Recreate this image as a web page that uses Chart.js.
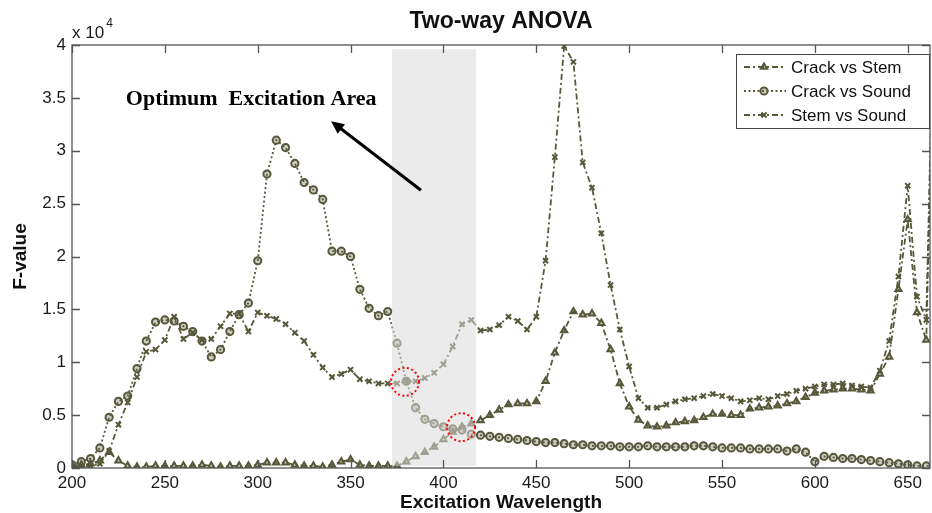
<!DOCTYPE html>
<html lang="en">
<head>
<meta charset="UTF-8" />
<title>Two-way ANOVA</title>
<script src="https://cdn.jsdelivr.net/npm/chart.js"></script>
<style>
  body { margin: 0; background: #fff; }
</style>
</head>
<body>
<canvas id="anova" width="932" height="513"></canvas>
<script>
// excitation wavelengths (nm)
const wavelengths = [
  200, 205, 210, 215, 220, 225, 230, 235, 240, 245, 250, 255, 260, 265, 270, 275,
  280, 285, 290, 295, 300, 305, 310, 315, 320, 325, 330, 335, 340, 345, 350, 355,
  360, 365, 370, 375, 380, 385, 390, 395, 400, 405, 410, 415, 420, 425, 430, 435,
  440, 445, 450, 455, 460, 465, 470, 475, 480, 485, 490, 495, 500, 505, 510, 515,
  520, 525, 530, 535, 540, 545, 550, 555, 560, 565, 570, 575, 580, 585, 590, 595,
  600, 605, 610, 615, 620, 625, 630, 635, 640, 645, 650, 655, 660, 665
];

// F-values, in units of 10^4 (as on the axis)
const crackVsStem = [
  0.02, 0.03, 0.04, 0.07, 0.15, 0.07, 0.02, 0.01, 0.01, 0.02, 0.02, 0.02, 0.02, 0.02, 0.03, 0.02,
  0.01, 0.02, 0.02, 0.02, 0.03, 0.05, 0.05, 0.05, 0.03, 0.02, 0.02, 0.01, 0.03, 0.06, 0.08, 0.03,
  0.02, 0.02, 0.02, 0.02, 0.06, 0.11, 0.15, 0.20, 0.27, 0.34, 0.39, 0.42, 0.45, 0.50, 0.55, 0.60,
  0.61, 0.61, 0.63, 0.82, 1.09, 1.30, 1.48, 1.45, 1.46, 1.37, 1.12, 0.80, 0.58, 0.455, 0.40, 0.39,
  0.40, 0.43, 0.44, 0.45, 0.48, 0.51, 0.51, 0.50, 0.50, 0.56, 0.57, 0.58, 0.59, 0.61, 0.63, 0.67,
  0.71, 0.73, 0.74, 0.75, 0.75, 0.74, 0.73, 0.89, 1.05, 1.69, 2.35, 1.47, 1.21, 5.0
];
const crackVsSound = [
  0.03, 0.06, 0.09, 0.19, 0.48, 0.63, 0.68, 0.94, 1.20, 1.38, 1.40, 1.39, 1.34, 1.29, 1.20, 1.05,
  1.12, 1.29, 1.45, 1.56, 1.96, 2.78, 3.10, 3.03, 2.88, 2.70, 2.63, 2.54, 2.05, 2.05, 2.00, 1.69,
  1.51, 1.44, 1.48, 1.18, 0.82, 0.57, 0.46, 0.42, 0.39, 0.37, 0.36, 0.32, 0.31, 0.30, 0.29, 0.28,
  0.27, 0.26, 0.25, 0.24, 0.24, 0.23, 0.22, 0.22, 0.21, 0.21, 0.21, 0.20, 0.20, 0.20, 0.21, 0.20,
  0.20, 0.20, 0.20, 0.21, 0.21, 0.20, 0.19, 0.19, 0.19, 0.18, 0.18, 0.18, 0.18, 0.16, 0.18, 0.15,
  0.06, 0.11, 0.10, 0.09, 0.09, 0.08, 0.07, 0.06, 0.05, 0.04, 0.03, 0.02, 0.02, 0.02
];
const stemVsSound = [
  0.01, 0.01, 0.02, 0.04, 0.16, 0.41, 0.62, 0.86, 1.10, 1.12, 1.21, 1.43, 1.22, 1.28, 1.21, 1.22,
  1.34, 1.46, 1.46, 1.29, 1.47, 1.44, 1.41, 1.36, 1.28, 1.20, 1.07, 0.95, 0.86, 0.89, 0.93, 0.84,
  0.82, 0.80, 0.80, 0.80, 0.82, 0.82, 0.85, 0.90, 0.98, 1.15, 1.36, 1.40, 1.30, 1.31, 1.35, 1.43,
  1.39, 1.31, 1.43, 1.96, 2.94, 3.99, 3.84, 2.89, 2.65, 2.22, 1.73, 1.31, 0.96, 0.66, 0.57, 0.57,
  0.60, 0.63, 0.65, 0.66, 0.68, 0.70, 0.68, 0.66, 0.63, 0.64, 0.66, 0.65, 0.68, 0.70, 0.73, 0.75,
  0.77, 0.79, 0.79, 0.80, 0.78, 0.77, 0.76, 0.92, 1.20, 1.81, 2.67, 1.62, 1.40, 5.2
];

const xTicks = [200, 250, 300, 350, 400, 450, 500, 550, 600, 650];
const yTicks = [0, 0.5, 1, 1.5, 2, 2.5, 3, 3.5, 4];

// shaded "optimum" band and the two marked crossings
const optimumBand = [372.3, 417.5];
const crossings = [[379.3, 0.815], [409.5, 0.386]];

const OLIVE = '#57573a';
const SANS = 'Liberation Sans, Arial, sans-serif';

function series(values) {
  return wavelengths.map((w, i) => ({ x: w, y: values[i] }));
}

// title over the axes, frame, inward ticks, band, arrow, circles, legend
const matlabLook = {
  id: 'matlabLook',
  afterDatasetsDraw(chart) {
    const { ctx, scales: { x, y } } = chart;
    const x0 = x.getPixelForValue(optimumBand[0]);
    const x1 = x.getPixelForValue(optimumBand[1]);
    const yt = y.getPixelForValue(3.96);
    const yb = y.getPixelForValue(0.02);
    ctx.save();
    ctx.fillStyle = 'rgba(218,218,218,0.55)';
    ctx.fillRect(x0, yt, x1 - x0, yb - yt);
    ctx.restore();
  },
  afterDraw(chart) {
    const { ctx, chartArea: a, scales: { x, y } } = chart;
    ctx.save();

    // title, centred over the axes like MATLAB does
    ctx.fillStyle = '#111';
    ctx.textAlign = 'center';
    ctx.textBaseline = 'middle';
    ctx.font = 'bold 23px ' + SANS;
    ctx.fillText('Two-way ANOVA', (a.left + a.right) / 2, 22);
    ctx.textAlign = 'left';

    // box + ticks
    ctx.strokeStyle = '#555';
    ctx.lineWidth = 1.3;
    ctx.strokeRect(a.left, a.top, a.right - a.left, a.bottom - a.top);
    ctx.beginPath();
    xTicks.forEach(v => {
      const p = Math.round(x.getPixelForValue(v)) + 0.5;
      ctx.moveTo(p, a.bottom); ctx.lineTo(p, a.bottom - 8);
      ctx.moveTo(p, a.top); ctx.lineTo(p, a.top + 8);
    });
    yTicks.forEach(v => {
      const p = Math.round(y.getPixelForValue(v)) + 0.5;
      ctx.moveTo(a.left, p); ctx.lineTo(a.left + 8, p);
      ctx.moveTo(a.right, p); ctx.lineTo(a.right - 8, p);
    });
    ctx.stroke();

    // x 10^4 multiplier
    ctx.fillStyle = '#1a1a1a';
    ctx.font = '17px ' + SANS;
    ctx.fillText('x 10', a.left, a.top - 12);
    const w = ctx.measureText('x 10').width;
    ctx.font = '12px ' + SANS;
    ctx.fillText('4', a.left + w + 2, a.top - 21);

    // red dotted circles on the crossings
    ctx.strokeStyle = '#ff0000';
    ctx.lineWidth = 2;
    ctx.setLineDash([2, 2.5]);
    crossings.forEach(([cx, cy]) => {
      ctx.beginPath();
      ctx.arc(x.getPixelForValue(cx), y.getPixelForValue(cy), 14, 0, Math.PI * 2);
      ctx.stroke();
    });
    ctx.setLineDash([]);

    // annotation arrow + text
    const tx = x.getPixelForValue(387.9), ty = y.getPixelForValue(2.626);
    const hx = x.getPixelForValue(339.5), hy = y.getPixelForValue(3.28);
    const ang = Math.atan2(hy - ty, hx - tx);
    ctx.strokeStyle = '#000';
    ctx.fillStyle = '#000';
    ctx.lineWidth = 3;
    ctx.beginPath();
    ctx.moveTo(tx, ty);
    ctx.lineTo(hx - 8 * Math.cos(ang), hy - 8 * Math.sin(ang));
    ctx.stroke();
    ctx.beginPath();
    ctx.moveTo(hx, hy);
    ctx.lineTo(hx - 13 * Math.cos(ang) + 6 * Math.sin(ang), hy - 13 * Math.sin(ang) - 6 * Math.cos(ang));
    ctx.lineTo(hx - 13 * Math.cos(ang) - 6 * Math.sin(ang), hy - 13 * Math.sin(ang) + 6 * Math.cos(ang));
    ctx.closePath();
    ctx.fill();

    ctx.font = 'bold 22px Liberation Serif, Times New Roman, serif';
    ctx.fillText('Optimum  Excitation Area', x.getPixelForValue(229), y.getPixelForValue(3.49));

    // legend (MATLAB style: line sample with marker in the middle)
    const lw = 193, lh = 74;
    const lx = a.right - 1 - lw, ly = a.top + 9;
    ctx.fillStyle = '#fff';
    ctx.fillRect(lx, ly, lw, lh);
    ctx.strokeStyle = '#444';
    ctx.lineWidth = 1;
    ctx.strokeRect(lx + 0.5, ly + 0.5, lw, lh);
    chart.data.datasets.forEach((ds, i) => {
      const ry = ly + 13 + i * 24;
      ctx.strokeStyle = ds.borderColor;
      ctx.lineWidth = ds.borderWidth;
      ctx.setLineDash(ds.borderDash);
      ctx.beginPath();
      ctx.moveTo(lx + 8, ry);
      ctx.lineTo(lx + 50, ry);
      ctx.stroke();
      ctx.setLineDash([]);
      ctx.fillStyle = ds.pointBackgroundColor;
      ctx.lineWidth = ds.pointBorderWidth;
      Chart.helpers.drawPoint(ctx, { pointStyle: ds.pointStyle, radius: ds.pointRadius, borderWidth: ds.pointBorderWidth, rotation: 0 }, lx + 28, ry);
      ctx.fillStyle = '#111';
      ctx.font = '17px ' + SANS;
      ctx.fillText(ds.label, lx + 55, ry + 1);
    });
    ctx.restore();
  }
};

function lineSet(label, values, dash, style) {
  return {
    label,
    data: series(values),
    borderColor: OLIVE,
    borderWidth: 1.8,
    borderDash: dash,
    pointStyle: style,
    pointRadius: 3.6,
    pointBorderWidth: 2,
    pointBorderColor: OLIVE,
    pointBackgroundColor: 'rgba(87,87,58,0.3)',
    tension: 0,
    fill: false
  };
}

new Chart(document.getElementById('anova'), {
  type: 'line',
  data: {
    datasets: [
      lineSet('Crack vs Stem', crackVsStem, [6, 3, 2, 3], 'triangle'),
      lineSet('Crack vs Sound', crackVsSound, [2, 2.5], 'circle'),
      lineSet('Stem vs Sound', stemVsSound, [6, 3, 2, 3], 'crossRot')
    ]
  },
  options: {
    responsive: false,
    animation: false,
    layout: { autoPadding: false, padding: { left: 0, right: 2, top: 45, bottom: 0 } },
    plugins: {
      legend: { display: false },
      tooltip: { enabled: false },
      title: { display: false }
    },
    scales: {
      x: {
        type: 'linear',
        min: 200,
        max: 662,
        grid: { display: false, drawTicks: false },
        border: { display: false },
        afterBuildTicks: s => { s.ticks = xTicks.map(v => ({ value: v })); },
        afterFit: s => { s.height = 45; s.paddingLeft = 0; s.paddingRight = 0; },
        ticks: {
          color: '#1a1a1a',
          padding: 5,
          autoSkip: false,
          maxRotation: 0,
          font: { family: SANS, size: 17 }
        },
        title: {
          display: true,
          text: 'Excitation Wavelength',
          color: '#111',
          font: { family: SANS, size: 19, weight: 'bold' },
          padding: { top: 0, bottom: -1 }
        }
      },
      y: {
        min: 0,
        max: 4,
        grid: { display: false, drawTicks: false },
        border: { display: false },
        afterBuildTicks: s => { s.ticks = yTicks.map(v => ({ value: v })); },
        afterFit: s => { s.width = 72; s.paddingTop = 0; s.paddingBottom = 0; },
        ticks: {
          color: '#1a1a1a',
          padding: 6,
          font: { family: SANS, size: 17 },
          callback: v => String(v)
        },
        title: {
          display: true,
          text: 'F-value',
          color: '#111',
          font: { family: SANS, size: 19, weight: 'bold' },
          padding: { top: 9, bottom: 0 }
        }
      }
    }
  },
  plugins: [matlabLook]
});
</script>
</body>
</html>
